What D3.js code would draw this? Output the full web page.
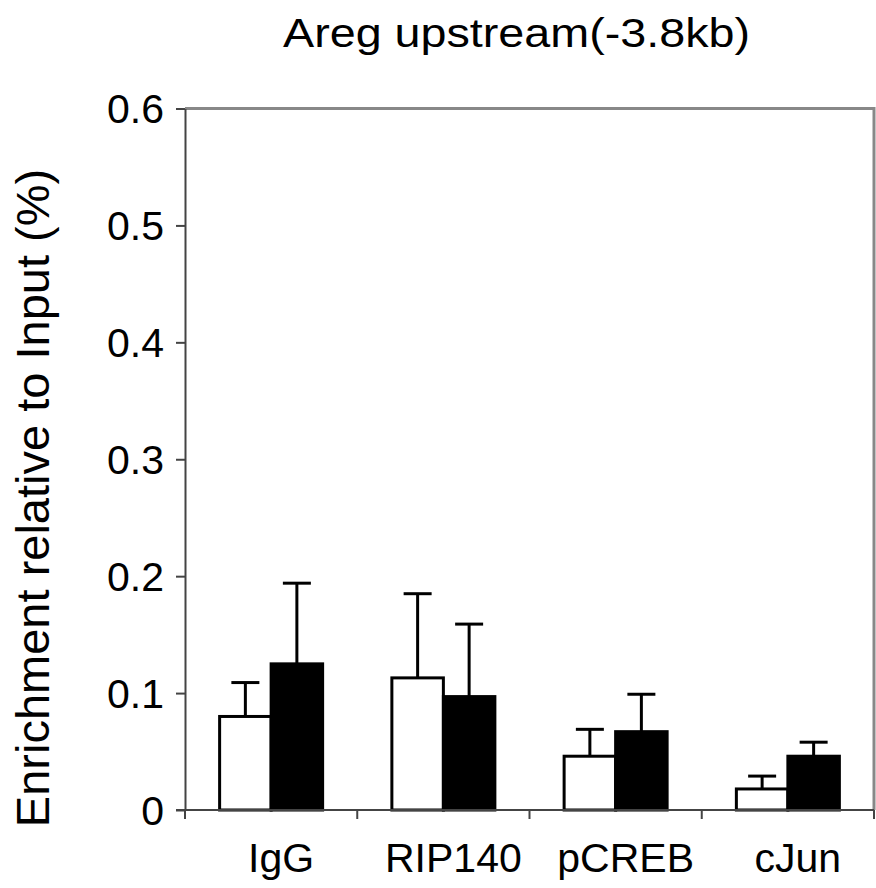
<!DOCTYPE html>
<html>
<head>
<meta charset="utf-8">
<script src="https://cdn.jsdelivr.net/npm/d3@7"></script>
<style>
  html, body { margin: 0; padding: 0; background: #fff; }
  svg { display: block; }
  text { font-family: "Liberation Sans", Arial, sans-serif; fill: #000; }
</style>
</head>
<body>
<svg id="chart" width="876" height="888"></svg>
<script>
const title = "Areg upstream(-3.8kb)";
const yLabel = "Enrichment relative to Input (%)";
const categories = ["IgG", "RIP140", "pCREB", "cJun"];
const seriesNames = ["open", "filled"];
const openValues = [0.080, 0.113, 0.046, 0.018];
const openErrors = [0.029, 0.072, 0.023, 0.011];
const filledValues = [0.125, 0.097, 0.067, 0.046];
const filledErrors = [0.069, 0.062, 0.032, 0.012];
const yTicks = [0, 0.1, 0.2, 0.3, 0.4, 0.5, 0.6];
const yTickLabels = ["0", "0.1", "0.2", "0.3", "0.4", "0.5", "0.6"];
const seriesFill = ["#ffffff", "#000000"];

const svg = d3.select("#chart");
const x0 = 185, x1 = 874, yBottom = 810, yTop = 108.5;

const x = d3.scaleBand().domain(categories).range([x0, x1]).paddingInner(0.402).paddingOuter(0.201);
const xs = d3.scaleBand().domain(seriesNames).range([0, x.bandwidth()]).padding(0);
const y = d3.scaleLinear().domain([0, 0.6]).range([yBottom, yTop]);

// top and right frame
svg.append("path")
  .attr("d", `M${x0},${y(0.6)}H${x1}V${y(0)}`)
  .attr("fill", "none").attr("stroke", "#888").attr("stroke-width", 3);

// data rows
const rows = [];
categories.forEach((c, i) => {
  rows.push({cat: c, s: 0, v: openValues[i], e: openErrors[i]});
  rows.push({cat: c, s: 1, v: filledValues[i], e: filledErrors[i]});
});

// error bars (upper only)
const eg = svg.append("g").attr("stroke", "#000").attr("stroke-width", 3).attr("fill", "none");
rows.forEach(d => {
  const cx = x(d.cat) + xs(seriesNames[d.s]) + xs.bandwidth() / 2;
  eg.append("line").attr("x1", cx).attr("x2", cx).attr("y1", y(d.v)).attr("y2", y(d.v + d.e));
  eg.append("line").attr("x1", cx - 14).attr("x2", cx + 14).attr("y1", y(d.v + d.e)).attr("y2", y(d.v + d.e));
});

// bars
svg.append("g").selectAll("rect").data(rows).join("rect")
  .attr("x", d => x(d.cat) + xs(seriesNames[d.s]))
  .attr("width", xs.bandwidth())
  .attr("y", d => y(d.v))
  .attr("height", d => y(0) - y(d.v))
  .attr("fill", d => seriesFill[d.s])
  .attr("stroke", "#000").attr("stroke-width", 3);

// y axis
const yAxis = d3.axisLeft(y).tickValues(yTicks).tickFormat((d, i) => yTickLabels[i]).tickSize(9).tickPadding(12).tickSizeOuter(0);
const yg = svg.append("g").attr("transform", `translate(${x0},0)`).call(yAxis);
yg.select(".domain").attr("stroke", "#444").attr("stroke-width", 2);
yg.selectAll(".tick line").attr("stroke", "#444").attr("stroke-width", 2);
yg.selectAll(".tick text").attr("font-size", 41).attr("font-family", "Liberation Sans, Arial, sans-serif").attr("fill", "#000").attr("dy", "0.35em");

// x axis
const boundaries = [x0].concat(categories.map(c => x(c) + x.bandwidth() + x.step() * 0.201));
const xg = svg.append("g");
xg.append("line").attr("x1", x0 - 9).attr("x2", x1).attr("y1", yBottom).attr("y2", yBottom).attr("stroke", "#444").attr("stroke-width", 2);
xg.selectAll("line.tk").data(boundaries).join("line").attr("class", "tk")
  .attr("x1", d => d).attr("x2", d => d).attr("y1", yBottom).attr("y2", yBottom + 9)
  .attr("stroke", "#444").attr("stroke-width", 2);
xg.selectAll("text").data(categories).join("text")
  .attr("x", d => x(d) + x.bandwidth() / 2 + 10)
  .attr("y", 872)
  .attr("text-anchor", "middle")
  .attr("font-size", 41)
  .text(d => d);

// title
svg.append("text").attr("x", 516.5).attr("y", 47).attr("text-anchor", "middle")
  .attr("font-size", 40).attr("textLength", 467).attr("lengthAdjust", "spacingAndGlyphs").text(title);

// y label
svg.append("text").attr("transform", `translate(49,498) rotate(-90)`).attr("text-anchor", "middle")
  .attr("font-size", 47).text(yLabel);
</script>
</body>
</html>
